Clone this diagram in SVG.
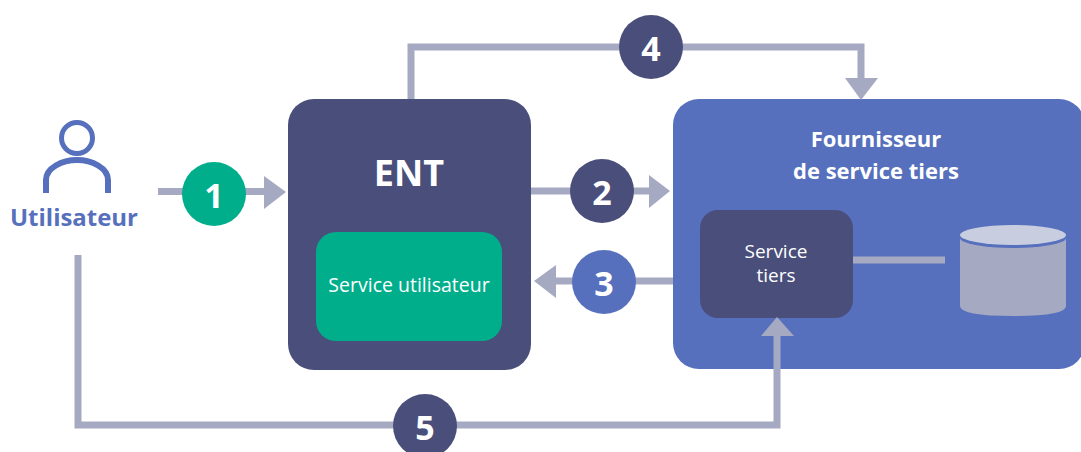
<svg xmlns="http://www.w3.org/2000/svg" width="1081" height="452" viewBox="0 0 1081 452">
<defs><style>
.c{fill:none;stroke:#a5a9c2;stroke-width:7}
.h{fill:#a5a9c2}
.b{fill:#4a4e7a}
.t{font-family:"Open Sans","Liberation Sans",sans-serif;fill:#fff;text-anchor:middle}
.n{font-size:34px;font-weight:700}
</style></defs>
<rect width="1081" height="452" fill="#fff"/>
<g id="user">
<circle cx="77" cy="138" r="15.5" fill="none" stroke="#5670bd" stroke-width="5"/>
<path d="M46 193V180C46 168 62 160 77 160C92 160 108 168 108 180V193" fill="none" stroke="#5670bd" stroke-width="6"/>
<text x="74" y="226" font-family="Open Sans,Liberation Sans,sans-serif" font-size="24" font-weight="700" fill="#5670bd" text-anchor="middle" textLength="128" lengthAdjust="spacingAndGlyphs">Utilisateur</text>
</g>
<g id="ent">
<rect class="b" x="288" y="99" width="243" height="271" rx="26"/>
<text class="t" x="409" y="186" font-size="36" font-weight="700">ENT</text>
<rect x="316" y="232" width="186" height="109" rx="20" fill="#00ae8b"/>
<text class="t" x="409" y="292" font-size="19.5">Service utilisateur</text>
</g>
<g id="provider">
<rect x="673" y="99" width="412" height="270" rx="26" fill="#5670bd"/>
<text class="t" x="876" y="147" font-size="22" font-weight="700">Fournisseur</text>
<text class="t" x="876" y="179" font-size="22" font-weight="700">de service tiers</text>
</g>
<g id="service">
<rect class="b" x="700" y="210" width="153" height="108" rx="18"/>
<text class="t" x="776" y="258" font-size="19">Service</text>
<text class="t" x="776" y="282" font-size="19">tiers</text>
</g>
<g id="connectors">
<path class="c" d="M158 191.500H266"/><polygon class="h" points="286,192 264,176 264,209"/>
<path class="c" d="M531 191H650"/><polygon class="h" points="670,191 649,175 649,208"/>
<path class="c" d="M673 281H555"/><polygon class="h" points="534,281 556,265 556,298"/>
<path class="c" d="M411 99V47H861V80"/><polygon class="h" points="861,100 845,78 878,78"/>
<path class="c" d="M78 255V425H777V335"/><polygon class="h" points="777,317 761,336 794,336"/>
<path class="c" d="M853 260H945"/>
</g>
<g id="db">
<path class="h" d="M960 238V306Q960 316 1013 316Q1066 316 1066 306V238Z"/>
<ellipse cx="1013" cy="238" rx="53" ry="10" fill="#5670bd"/>
<ellipse cx="1013" cy="235" rx="53" ry="10" fill="#c9cde0"/>
</g>
<g id="s1"><circle cx="214" cy="194" r="32" fill="#00ae8b"/><text class="t n" x="214" y="208">1</text></g>
<g id="s2"><circle cx="602" cy="191" r="32" class="b"/><text class="t n" x="602" y="205">2</text></g>
<g id="s3"><circle cx="604" cy="282" r="32" fill="#5670bd"/><text class="t n" x="604" y="296">3</text></g>
<g id="s4"><circle cx="651" cy="47" r="32" class="b"/><text class="t n" x="651" y="61">4</text></g>
<g id="s5"><circle cx="425" cy="426" r="32" class="b"/><text class="t n" x="425" y="440">5</text></g>
</svg>
